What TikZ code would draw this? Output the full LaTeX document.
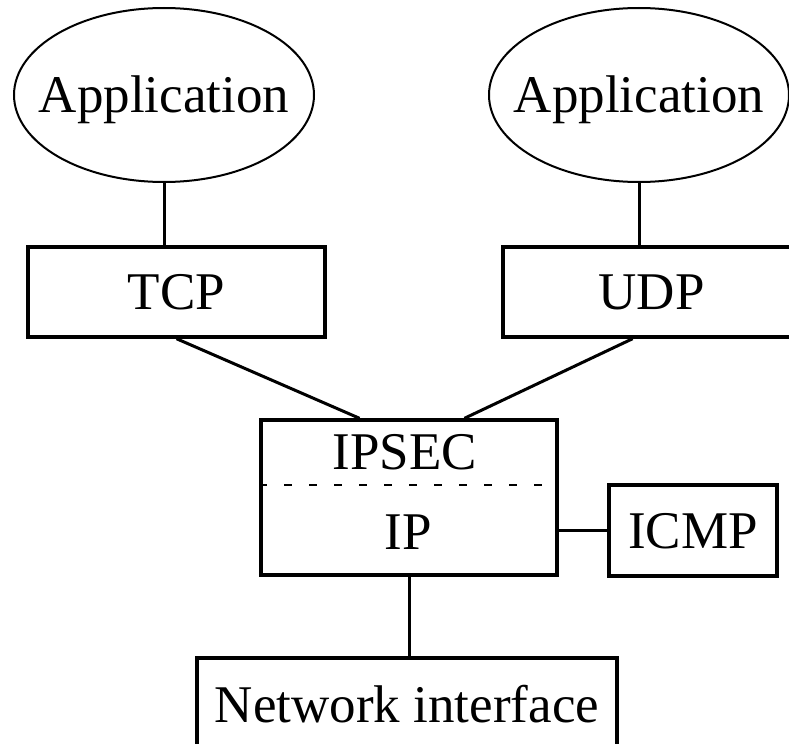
\documentclass[tikz,border=0pt]{standalone}
\usepackage{fontspec}
\setmainfont{Liberation Serif}
\usetikzlibrary{shapes.geometric}
\begin{document}
\begin{tikzpicture}[x=0.5pt,y=-0.5pt,
  every node/.style={font=\fontsize{26.5}{30}\selectfont, inner sep=0pt, text height=17.5pt, text depth=0pt},
  app/.style={draw, ellipse, line width=1pt, minimum width=150pt, minimum height=87pt},
  layer/.style={draw, rectangle, line width=1.7pt},
  link/.style={line width=1.5pt}]
  \useasboundingbox (0,0) rectangle (789,744);
  \node[app] (app1) at (164,95) {\makebox[0pt]{Application}};
  \node[app] (app2) at (639,95) {\makebox[0pt]{Application}};
  \node[layer, minimum width=148.5pt, minimum height=45pt] (tcp) at (176.5,292) {TCP};
  \node[layer, minimum width=148.5pt, minimum height=45pt] (udp) at (651.5,292) {UDP};
  \node[layer, minimum width=148pt, minimum height=77.5pt] (ipbox) at (409,497.5) {};
  \node (ipsec) at (405,452) {IPSEC};
  \node (ip) at (408.5,531.5) {IP};
  \node[layer, minimum width=84pt, minimum height=45.5pt] (icmp) at (693,530.5) {ICMP};
  \node[layer, minimum width=210pt, minimum height=47pt] (net) at (407,705) {Network interface};
  \draw[line width=1.2pt, dash pattern=on 4pt off 8.5pt] (ipbox.west |- 0,485) -- (ipbox.east |- 0,485);
  \draw[link] (app1.south) -- (app1.south |- tcp.north);
  \draw[link] (app2.south) -- (app2.south |- udp.north);
  \draw[link] (tcp.south) -- (ipbox.122);
  \draw[link] (udp.248) -- (ipbox.55);
  \draw[link] (icmp.west) -- (icmp.west -| ipbox.east);
  \draw[link] (ipbox.south) -- (ipbox.south |- net.north);
\end{tikzpicture}
\end{document}
